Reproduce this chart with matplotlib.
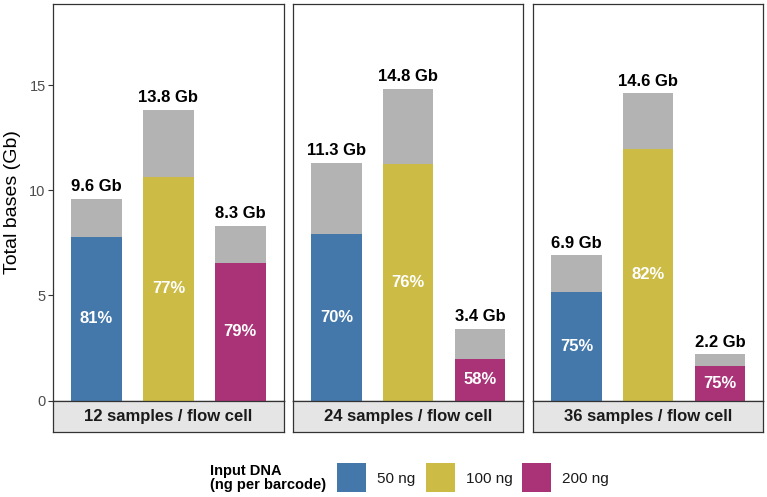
#!/usr/bin/env python3
import matplotlib

matplotlib.use("Agg")
import matplotlib.pyplot as plt
from matplotlib.patches import Rectangle

plt.rcParams["font.family"] = ["Liberation Sans", "DejaVu Sans"]

panels = ["12 samples / flow cell", "24 samples / flow cell", "36 samples / flow cell"]
inputs = ["50 ng", "100 ng", "200 ng"]
colors = ["#4477AA", "#CCBB44", "#AA3377"]
grey = "#B3B3B3"

# total bases (Gb) and share passing (percent) per panel, per input amount
totals = [
    [9.6, 13.8, 8.3],
    [11.3, 14.8, 3.4],
    [6.9, 14.6, 2.2],
]
percents = [
    [81, 77, 79],
    [70, 76, 58],
    [75, 82, 75],
]

W, H = 767, 497
fig = plt.figure(figsize=(W / 100, H / 100), dpi=100)


def px_box(x0, y0, x1, y1):
    return [x0 / W, 1 - y1 / H, (x1 - x0) / W, (y1 - y0) / H]


panel_x = [(53.3, 283.5), (293.3, 523.3), (533.3, 763.3)]
top_px, zero_px, strip_px = 4, 400.7, 431.5

for i, (x0, x1) in enumerate(panel_x):
    ax = fig.add_axes(px_box(x0, top_px, x1, zero_px))
    xs = [1, 2, 3]
    kept = [t * p / 100 for t, p in zip(totals[i], percents[i])]
    ax.bar(xs, totals[i], width=0.7, color=grey, zorder=2)
    ax.bar(xs, kept, width=0.7, color=colors, zorder=3)
    for x, t, k, p in zip(xs, totals[i], kept, percents[i]):
        ax.annotate(f"{t} Gb", (x, t), xytext=(0, 3.5), textcoords="offset points",
                    ha="center", va="bottom", fontsize=12, fontweight="bold", color="black")
        ax.text(x, k / 2, f"{p}%", ha="center", va="center", fontsize=12,
                fontweight="bold", color="white", zorder=4)
    ax.set_xlim(0.4, 3.6)
    ax.set_ylim(0, 18.85)
    ax.set_xticks([])
    ax.set_yticks([0, 5, 10, 15])
    for s in ax.spines.values():
        s.set_color("#333333")
        s.set_linewidth(0.9)
    if i == 0:
        ax.tick_params(axis="y", length=3.5, color="#333333", labelsize=10.5,
                       labelcolor="#4D4D4D", pad=2)
        ax.set_ylabel("Total bases (Gb)", fontsize=14, labelpad=6)
    else:
        ax.tick_params(axis="y", left=False, labelleft=False)

    sx = fig.add_axes(px_box(x0, zero_px, x1, strip_px))
    sx.set_facecolor("#E5E5E5")
    sx.set_xticks([])
    sx.set_yticks([])
    for s in sx.spines.values():
        s.set_color("#333333")
        s.set_linewidth(0.9)
    sx.text(0.5, 0.5, panels[i], transform=sx.transAxes, ha="center", va="center",
            fontsize=12, fontweight="bold", color="#1A1A1A")

# legend
fig.text(210 / W, 1 - 478.5 / H, "Input DNA\n(ng per barcode)", ha="left", va="center",
         fontsize=10.5, fontweight="bold", linespacing=1.0)
sw_x = [337, 426, 522]
for lab, col, x in zip(inputs, colors, sw_x):
    fig.patches.append(Rectangle((x / W, 1 - 492 / H), 29 / W, 29 / H,
                                 transform=fig.transFigure, facecolor=col, edgecolor="none"))
    fig.text((x + 40) / W, 1 - 478.5 / H, lab, ha="left", va="center", fontsize=11,
             color="#1A1A1A")

fig.savefig("out.png", dpi=100)
